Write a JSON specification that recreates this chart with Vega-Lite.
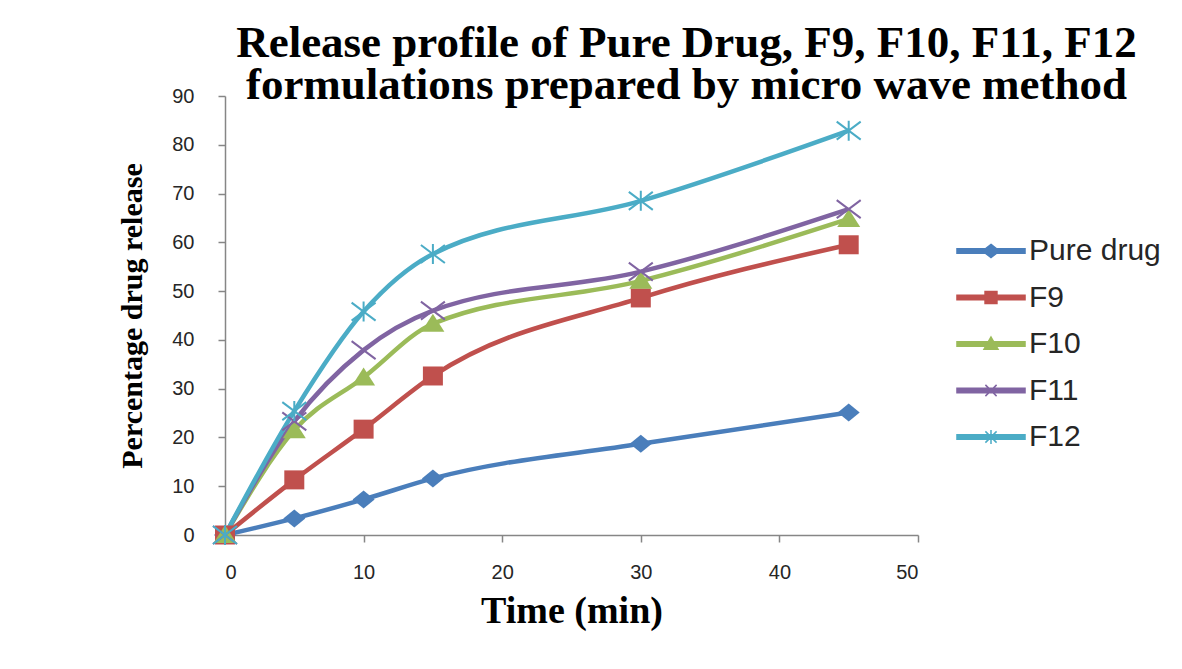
{
  "$schema": "https://vega.github.io/schema/vega-lite/v6.json",
  "width": 693,
  "height": 439,
  "autosize": "none",
  "padding": {"left": 225, "top": 96, "right": 264, "bottom": 134},
  "background": "white",
  "title": {
    "text": ["Release profile of Pure Drug, F9, F10, F11, F12", "formulations prepared by micro wave method"],
    "font": "Liberation Serif",
    "fontSize": 45,
    "fontWeight": "bold",
    "color": "black",
    "anchor": "middle",
    "frame": "group",
    "dx": 115,
    "lineHeight": 42,
    "baseline": "alphabetic",
    "offset": 0,
    "dy": 58
  },
  "data": {
    "values": [
      {"series": "Pure drug", "time": 0, "release": 0},
      {"series": "Pure drug", "time": 5, "release": 3.4},
      {"series": "Pure drug", "time": 10, "release": 7.3},
      {"series": "Pure drug", "time": 15, "release": 11.6},
      {"series": "Pure drug", "time": 30, "release": 18.7},
      {"series": "Pure drug", "time": 45, "release": 25.1},
      {"series": "F9", "time": 0, "release": 0},
      {"series": "F9", "time": 5, "release": 11.3},
      {"series": "F9", "time": 10, "release": 21.7},
      {"series": "F9", "time": 15, "release": 32.6},
      {"series": "F9", "time": 30, "release": 48.6},
      {"series": "F9", "time": 45, "release": 59.5},
      {"series": "F10", "time": 0, "release": 0},
      {"series": "F10", "time": 5, "release": 21.5},
      {"series": "F10", "time": 10, "release": 32.3},
      {"series": "F10", "time": 15, "release": 43.3},
      {"series": "F10", "time": 30, "release": 52.1},
      {"series": "F10", "time": 45, "release": 64.8},
      {"series": "F11", "time": 0, "release": 0},
      {"series": "F11", "time": 5, "release": 23.3},
      {"series": "F11", "time": 10, "release": 37.9},
      {"series": "F11", "time": 15, "release": 46.0},
      {"series": "F11", "time": 30, "release": 54.0},
      {"series": "F11", "time": 45, "release": 66.8},
      {"series": "F12", "time": 0, "release": 0},
      {"series": "F12", "time": 5, "release": 25.4},
      {"series": "F12", "time": 10, "release": 45.8},
      {"series": "F12", "time": 15, "release": 57.6},
      {"series": "F12", "time": 30, "release": 68.5},
      {"series": "F12", "time": 45, "release": 82.9}
    ]
  },
  "encoding": {
    "x": {
      "field": "time",
      "type": "quantitative",
      "scale": {"domain": [0, 50], "nice": false, "zero": false},
      "axis": {
        "values": [0, 10, 20, 30, 40, 50],
        "title": "Time (min)",
        "grid": false,
        "labelPadding": 20,
        "titlePadding": 10
      }
    },
    "y": {
      "field": "release",
      "type": "quantitative",
      "scale": {"domain": [0, 90], "nice": false},
      "axis": {
        "values": [0, 10, 20, 30, 40, 50, 60, 70, 80, 90],
        "title": "Percentage drug release",
        "grid": false,
        "labelPadding": 24,
        "titlePadding": 24
      }
    },
    "color": {
      "field": "series",
      "type": "nominal",
      "sort": ["Pure drug", "F9", "F10", "F11", "F12"],
      "scale": {
        "domain": ["Pure drug", "F9", "F10", "F11", "F12"],
        "range": ["#4A7EBB", "#C0504D", "#9BBB59", "#8064A2", "#4BACC6"]
      },
      "legend": null
    }
  },
  "layer": [
    {
      "mark": {"type": "line", "interpolate": "monotone", "strokeWidth": 4.5}
    },
    {
      "transform": [{"filter": {"field": "series", "oneOf": ["Pure drug", "F9", "F10"]}}],
      "mark": {"type": "point", "filled": true, "opacity": 1, "size": 400},
      "encoding": {
        "shape": {
          "field": "series",
          "type": "nominal",
          "scale": {
            "domain": ["Pure drug", "F9", "F10", "F11", "F12"],
            "range": [
              "M-1.1,0L0,-0.9L1.1,0L0,0.9Z",
              "M-1,-0.95H1V0.95H-1Z",
              "M0,-1L1.15,0.8H-1.15Z",
              "M-1.2,-0.9L1.2,0.9M-1.2,0.9L1.2,-0.9",
              "M-1.2,-0.9L1.2,0.9M-1.2,0.9L1.2,-0.9M0,-1L0,1"
            ]
          },
          "legend": null
        }
      }
    },
    {
      "transform": [{"filter": {"field": "series", "oneOf": ["F11", "F12"]}}],
      "mark": {"type": "point", "filled": false, "opacity": 1, "strokeWidth": 2, "size": 400},
      "encoding": {
        "shape": {
          "field": "series",
          "type": "nominal",
          "scale": {
            "domain": ["Pure drug", "F9", "F10", "F11", "F12"],
            "range": [
              "M-1.1,0L0,-0.9L1.1,0L0,0.9Z",
              "M-1,-0.95H1V0.95H-1Z",
              "M0,-1L1.15,0.8H-1.15Z",
              "M-1.2,-0.9L1.2,0.9M-1.2,0.9L1.2,-0.9",
              "M-1.2,-0.9L1.2,0.9M-1.2,0.9L1.2,-0.9M0,-1L0,1"
            ]
          },
          "legend": null
        }
      }
    },
    {
      "transform": [{"filter": "datum.time < 0"}],
      "mark": {"type": "point", "filled": true, "size": 196, "strokeWidth": 1.5},
      "encoding": {
        "color": {
          "field": "series",
          "type": "nominal",
          "sort": ["Pure drug", "F9", "F10", "F11", "F12"],
          "scale": {
            "domain": ["Pure drug", "F9", "F10", "F11", "F12"],
            "range": ["#4A7EBB", "#C0504D", "#9BBB59", "#8064A2", "#4BACC6"]
          },
          "legend": {"title": null, "orient": "none", "legendX": 751, "legendY": 140}
        },
        "stroke": {
          "field": "series",
          "type": "nominal",
          "sort": ["Pure drug", "F9", "F10", "F11", "F12"],
          "scale": {
            "domain": ["Pure drug", "F9", "F10", "F11", "F12"],
            "range": ["#4A7EBB", "#C0504D", "#9BBB59", "#8064A2", "#4BACC6"]
          },
          "legend": {"title": null, "orient": "none", "legendX": 751, "legendY": 140}
        },
        "shape": {
          "field": "series",
          "type": "nominal",
          "sort": ["Pure drug", "F9", "F10", "F11", "F12"],
          "scale": {
            "domain": ["Pure drug", "F9", "F10", "F11", "F12"],
            "range": [
              "M-4.86,-0.33H4.86V0.33H-4.86ZM0,-0.95L1.2,0L0,0.95L-1.2,0Z",
              "M-4.86,-0.33H4.86V0.33H-4.86ZM-0.85,-0.85H0.85V0.85H-0.85Z",
              "M-4.86,-0.33H4.86V0.33H-4.86ZM0,-1L1,0.75H-1Z",
              "M-4.86,-0.33H4.86V0.33H-4.86ZM-0.8,-0.8L0.8,0.8M-0.8,0.8L0.8,-0.8",
              "M-4.86,-0.33H4.86V0.33H-4.86ZM-0.8,-0.8L0.8,0.8M-0.8,0.8L0.8,-0.8M0,-1L0,1"
            ]
          },
          "legend": {"title": null, "orient": "none", "legendX": 751, "legendY": 140}
        }
      }
    }
  ],
  "resolve": {"scale": {"shape": "independent", "color": "independent", "stroke": "independent"}},
  "config": {
    "view": {"stroke": null},
    "legend": {
      "padding": 0,
      "labelOffset": 23,
      "rowPadding": 16.5,
      "labelFont": "Liberation Sans",
      "labelFontSize": 30,
      "labelColor": "#262626",
      "symbolSize": 196,
      "symbolStrokeWidth": 1.5,
      "symbolOpacity": 1
    },
    "axis": {
      "domainColor": "#868686",
      "domainWidth": 1.5,
      "tickColor": "#868686",
      "tickWidth": 1.5,
      "tickSize": 7,
      "labelFont": "Liberation Sans",
      "labelFontSize": 20,
      "labelColor": "#262626",
      "titleFont": "Liberation Serif",
      "titleFontWeight": "bold",
      "titleColor": "black"
    },
    "axisX": {"titleFontSize": 38},
    "axisY": {"titleFontSize": 30}
  }
}
